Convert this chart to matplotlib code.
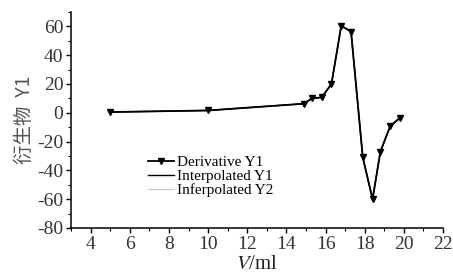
import matplotlib
matplotlib.use("Agg")
import matplotlib.pyplot as plt
from matplotlib.ticker import MultipleLocator

# volume (ml) and first derivative values
volume = [5.0, 10.0, 14.9, 15.3, 15.8, 16.3, 16.8, 17.3, 17.9, 18.4, 18.8, 19.3, 19.8]
deriv = [0.5, 1.6, 6.3, 10.0, 10.7, 20.0, 60.4, 56.4, -31.0, -60.0, -27.0, -9.3, -3.5]
x_ticks = [4, 6, 8, 10, 12, 14, 16, 18, 20, 22]
y_ticks = [-80, -60, -40, -20, 0, 20, 40, 60]

plt.rcParams['font.family'] = ['Liberation Serif', 'DejaVu Serif']
plt.rcParams['mathtext.fontset'] = 'stix'

fig = plt.figure(figsize=(4.53, 2.79), dpi=100)
ax = fig.add_axes([0.157, 0.183, 0.821, 0.774])

ax.plot(volume, deriv, color='black', lw=1.3, marker='v', ms=5, label='Derivative Y1')
ax.plot(volume, deriv, color='black', lw=1.0, label='Interpolated Y1')
ax.plot([], [], color='#c8c8c8', lw=0.8, label='Inferpolated Y2')

ax.set_xlim(3, 22)
ax.set_ylim(-80, 70)
ax.set_xticks(x_ticks)
ax.set_yticks(y_ticks)
ax.set_yticklabels([str(v) for v in y_ticks])
ax.xaxis.set_minor_locator(MultipleLocator(1))
ax.yaxis.set_minor_locator(MultipleLocator(10))
ax.tick_params(which='major', length=3.5, width=1, labelsize=14, pad=2,
               labelcolor='#333333')
ax.tick_params(which='minor', length=2, width=0.8)
for s in ['top', 'right']:
    ax.spines[s].set_visible(False)
for s in ['left', 'bottom']:
    ax.spines[s].set_linewidth(1.1)

ax.set_xlabel('$\\mathit{V}$/ml', fontsize=15, labelpad=2, color='#222222')
ax.set_ylabel('衍生物  Y1', fontsize=14, color='#555555',
              family=['Noto Sans CJK SC', 'DejaVu Sans'], labelpad=2)

leg = ax.legend(loc='upper left', bbox_to_anchor=(0.185, 0.37), frameon=False,
                fontsize=11, borderpad=0, labelspacing=0, handlelength=1.7,
                handletextpad=0.2)

fig.savefig('out.png', dpi=100)
